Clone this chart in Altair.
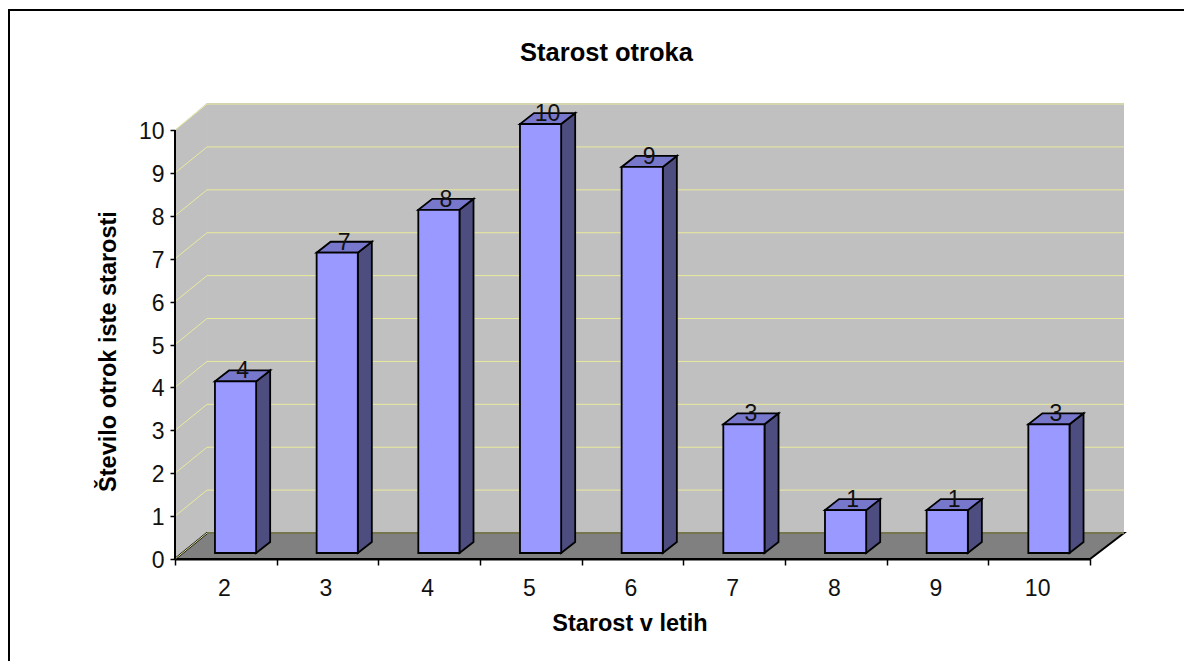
import altair as alt
import pandas as pd

ages = [2, 3, 4, 5, 6, 7, 8, 9, 10]
counts = [4, 7, 8, 10, 9, 3, 1, 1, 3]
ticks_y = list(range(0, 11))

# geometry in data units (category widths / counts)
X_MAX = 9.334
Y_MAX = 10.63
WALL_DX = 0.315
WALL_DY = 0.606
BAR_L = 0.393
BAR_W = 0.405
BAR_DX = 0.138
BAR_DY = 0.256
BAR_Y0 = 0.14

FONT = "Liberation Sans"
GRID = "#EAEA9C"
EDGE = 1.8

xs = alt.Scale(domain=[0, X_MAX], nice=False, zero=False)
ys = alt.Scale(domain=[0, Y_MAX], nice=False, zero=False)
X = alt.X("x:Q", scale=xs, axis=None)
X2 = alt.X2("x2:Q")
Y = alt.Y(
    "y:Q",
    scale=ys,
    stack=False,
    title="Število otrok iste starosti",
    axis=alt.Axis(
        values=ticks_y,
        domain=False,
        grid=False,
        format="d",
        tickColor="black",
        tickWidth=1.5,
        tickSize=5,
        labelFont=FONT,
        labelFontSize=23,
        labelColor="#111111",
        labelPadding=6,
        labelOffset=1.5,
        titleFont=FONT,
        titleFontSize=23.5,
        titleFontWeight="bold",
        titleColor="black",
        titleAngle=270,
        titleAlign="center",
        titleBaseline="alphabetic",
        titleX=-60,
        titleY=248,
    ),
)
Y2 = alt.Y2("y2:Q")

walls = pd.DataFrame(
    [
        dict(id="back", x=WALL_DX, y=WALL_DY, y2=Y_MAX),
        dict(id="back", x=X_MAX, y=WALL_DY, y2=Y_MAX),
        dict(id="side", x=0, y=0, y2=10),
        dict(id="side", x=WALL_DX, y=WALL_DY, y2=Y_MAX),
    ]
)
floor = pd.DataFrame(
    [
        dict(id="floor", x=0, y=0, y2=0),
        dict(id="floor", x=WALL_DX, y=0, y2=WALL_DY),
        dict(id="floor", x=9, y=0, y2=WALL_DY),
        dict(id="floor", x=X_MAX, y=WALL_DY, y2=WALL_DY),
    ]
)

grid_back = pd.DataFrame(
    [dict(x=WALL_DX, x2=X_MAX, y=t + WALL_DY) for t in ticks_y]
)
grid_side = pd.DataFrame(
    [dict(id=t, x=0, y=t) for t in ticks_y]
    + [dict(id=t, x=WALL_DX, y=t + WALL_DY) for t in ticks_y]
)

front, side, top, labels = [], [], [], []
for i, (a, v) in enumerate(zip(ages, counts)):
    xl = i + BAR_L
    xr = xl + BAR_W
    yt = v + BAR_Y0
    front.append(dict(x=xl, x2=xr, y=BAR_Y0, y2=yt))
    side.append(dict(id=a, x=xr, y=BAR_Y0, y2=yt))
    side.append(dict(id=a, x=xr + BAR_DX, y=BAR_Y0 + BAR_DY, y2=yt + BAR_DY))
    top.append(dict(id=a, x=xl, y=yt, y2=yt))
    top.append(dict(id=a, x=xl + BAR_DX, y=yt, y2=yt + BAR_DY))
    top.append(dict(id=a, x=xr, y=yt, y2=yt + BAR_DY))
    top.append(dict(id=a, x=xr + BAR_DX, y=yt + BAR_DY, y2=yt + BAR_DY))
    labels.append(dict(x=xl + (BAR_W + BAR_DX) / 2, y=yt + BAR_DY, v=v))

wall_layer = (
    alt.Chart(walls)
    .mark_area(fill="#C0C0C0")
    .encode(x=X, y=Y, y2=Y2, detail="id:N")
)
floor_layer = (
    alt.Chart(floor)
    .mark_area(fill="#808080", stroke="black", strokeWidth=2)
    .encode(x=X, y=Y, y2=Y2, detail="id:N")
)
grid_back_layer = (
    alt.Chart(grid_back)
    .mark_rule(color=GRID, strokeWidth=1)
    .encode(x=X, x2=X2, y=Y)
)
grid_side_layer = (
    alt.Chart(grid_side)
    .mark_line(color=GRID, strokeWidth=1)
    .encode(x=X, y=Y, detail="id:N")
)
y_domain = (
    alt.Chart(pd.DataFrame([dict(x=0, y=0, y2=10)]))
    .mark_rule(color="black", strokeWidth=2)
    .encode(x=X, y=Y, y2=Y2)
)
side_layer = (
    alt.Chart(pd.DataFrame(side))
    .mark_area(fill="#4D4D80", stroke="black", strokeWidth=EDGE)
    .encode(x=X, y=Y, y2=Y2, detail="id:N")
)
top_layer = (
    alt.Chart(pd.DataFrame(top))
    .mark_area(fill="#7777CC", stroke="black", strokeWidth=EDGE)
    .encode(x=X, y=Y, y2=Y2, detail="id:N")
)
front_layer = (
    alt.Chart(pd.DataFrame(front))
    .mark_rect(fill="#9999FF", stroke="black", strokeWidth=EDGE)
    .encode(x=X, x2=X2, y=Y, y2=Y2)
)
label_layer = (
    alt.Chart(pd.DataFrame(labels))
    .mark_text(font=FONT, fontSize=23, color="#111111", baseline="middle", dy=1)
    .encode(x=X, y=Y, text="v:Q")
)
x_axis_layer = (
    alt.Chart(pd.DataFrame({"age": ages}))
    .mark_point(opacity=0)
    .encode(
        x=alt.X(
            "age:N",
            sort=None,
            scale=alt.Scale(domain=ages, range=[0, 915], paddingInner=0, paddingOuter=0),
            title="Starost v letih",
            axis=alt.Axis(
                tickBand="extent",
                labelAngle=0,
                domainColor="black",
                domainWidth=2,
                tickColor="black",
                tickWidth=1.5,
                tickSize=6,
                labelFont=FONT,
                labelFontSize=23,
                labelColor="#111111",
                labelPadding=12,
                labelOffset=-2,
                titleFont=FONT,
                titleFontSize=23.5,
                titleFontWeight="bold",
                titleColor="black",
                titleBaseline="alphabetic",
                titleX=454.5,
                titleY=71,
            ),
        )
    )
)
frame_top = alt.Chart(pd.DataFrame({"a": [0]})).mark_rule(color="black", strokeWidth=2).encode(
    x=alt.value(-166), x2=alt.value(1016), y=alt.value(-93)
)
frame_left = alt.Chart(pd.DataFrame({"a": [0]})).mark_rule(color="black", strokeWidth=2).encode(
    x=alt.value(-166), y=alt.value(-94), y2=alt.value(560)
)

chart = (
    alt.layer(
        wall_layer,
        floor_layer,
        grid_back_layer,
        grid_side_layer,
        y_domain,
        side_layer,
        top_layer,
        front_layer,
        label_layer,
        x_axis_layer,
        frame_top,
        frame_left,
    )
    .resolve_scale(x="independent")
    .properties(
        width=949,
        height=456,
        padding={"left": 167, "top": 95, "right": 60, "bottom": 102},
        autosize=alt.AutoSizeParams(type="none"),
        background="white",
        title=alt.Title(
            "Starost otroka",
            font=FONT,
            fontSize=25.5,
            fontWeight="bold",
            color="black",
            anchor="middle",
            dx=-43,
            offset=-58,
        ),
    )
    .configure_view(stroke=None)
)

chart.save("out.html", embed_options={"renderer": "svg", "actions": False})
